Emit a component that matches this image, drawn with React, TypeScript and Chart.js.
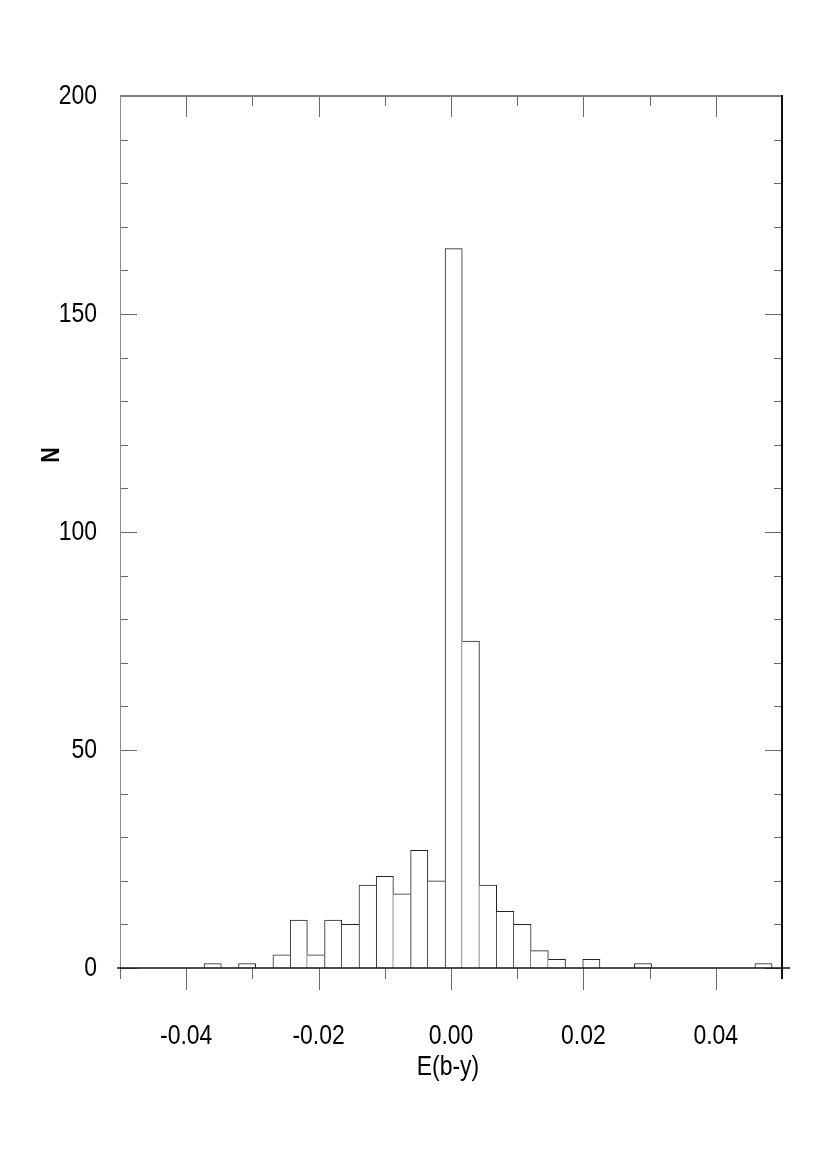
import React, { useEffect, useRef } from 'react';
import { Chart, registerables } from 'chart.js';

Chart.register(...registerables);

// Histogram bins (centres, in E(b-y) units) and counts
const binCenters = [
  -0.036, -0.0334, -0.0308, -0.0282, -0.0256, -0.023, -0.0204, -0.0178, -0.0152, -0.0126,
  -0.01, -0.0074, -0.0048, -0.0022, 0.0004, 0.003, 0.0056, 0.0082, 0.0108, 0.0134,
  0.016, 0.0186, 0.0212, 0.0238, 0.0264, 0.029, 0.0316, 0.0342, 0.0368, 0.0394,
  0.042, 0.0446, 0.0472,
];
const counts = [
  1, 0, 1, 0, 3, 11, 3, 11, 10, 19,
  21, 17, 27, 20, 165, 75, 19, 13, 10, 4,
  2, 0, 2, 0, 0, 1, 0, 0, 0, 0,
  0, 0, 1,
];

const xMajorValues = [-0.04, -0.02, 0, 0.02, 0.04];
const xTickLabels = ['-0.04', '-0.02', '0.00', '0.02', '0.04'];
const yMajorValues = [0, 50, 100, 150, 200];
const yTickLabels = ['0', '50', '100', '150', '200'];
const xTitle = 'E(b-y)';
const yTitle = 'N';

const FONT = "'Liberation Sans', Arial, sans-serif";
const NARROW = 0.82;

const isMajor = (list: number[], v: number) => list.findIndex((m) => Math.abs(m - v) < 1e-9);

const narrowText = (ctx: any, text: string, x: number, y: number, align: string, rot = 0) => {
  ctx.save();
  ctx.translate(x, y);
  if (rot) ctx.rotate(rot);
  ctx.scale(NARROW, 1);
  ctx.textAlign = align;
  ctx.textBaseline = 'middle';
  ctx.fillText(text, 0, 0);
  ctx.restore();
};

const framePlugin = {
  id: 'frame',
  afterDraw(chart: any) {
    const { ctx, chartArea: a, scales } = chart;
    const xs = scales.x;
    const ys = scales.y;
    ctx.save();
    // tick marks
    ctx.strokeStyle = '#6a6a6a';
    ctx.lineWidth = 1;
    xs.ticks.forEach((t: any) => {
      const px = Math.round(xs.getPixelForValue(t.value)) + 0.5;
      const major = isMajor(xMajorValues, t.value) >= 0;
      ctx.beginPath();
      ctx.moveTo(px, a.bottom);
      ctx.lineTo(px, a.bottom + (major ? 22 : 11));
      ctx.moveTo(px, a.top);
      ctx.lineTo(px, a.top + (major ? 21 : 10));
      ctx.stroke();
    });
    ys.ticks.forEach((t: any) => {
      const py = Math.round(ys.getPixelForValue(t.value)) + 0.5;
      const major = isMajor(yMajorValues, t.value) >= 0;
      ctx.beginPath();
      ctx.moveTo(a.left, py);
      ctx.lineTo(a.left + (major ? 17 : 8), py);
      ctx.moveTo(a.right, py);
      ctx.lineTo(a.right - (major ? 17 : 8), py);
      ctx.stroke();
    });
    // frame
    ctx.strokeStyle = '#808080';
    ctx.lineWidth = 2;
    ctx.beginPath();
    ctx.moveTo(a.left, a.top);
    ctx.lineTo(a.right, a.top);
    ctx.stroke();
    ctx.strokeStyle = '#8c8c8c';
    ctx.lineWidth = 1;
    ctx.beginPath();
    ctx.moveTo(a.left + 0.5, a.top);
    ctx.lineTo(a.left + 0.5, a.bottom);
    ctx.stroke();
    ctx.strokeStyle = '#111';
    ctx.lineWidth = 2;
    ctx.beginPath();
    ctx.moveTo(a.right, a.top - 1);
    ctx.lineTo(a.right, a.bottom + 11);
    ctx.stroke();
    ctx.lineWidth = 1.5;
    ctx.beginPath();
    ctx.moveTo(a.left - 3, a.bottom);
    ctx.lineTo(a.right + 8, a.bottom);
    ctx.stroke();

    // tick labels
    ctx.fillStyle = '#000';
    ctx.font = `28px ${FONT}`;
    xMajorValues.forEach((v, i) => {
      narrowText(ctx, xTickLabels[i], xs.getPixelForValue(v), a.bottom + 68, 'center');
    });
    yMajorValues.forEach((v, i) => {
      narrowText(ctx, yTickLabels[i], a.left - 23, ys.getPixelForValue(v), 'right');
    });
    // axis titles
    narrowText(ctx, xTitle, (a.left + a.right) / 2 - 3, a.bottom + 99, 'center');
    ctx.font = `bold 26px ${FONT}`;
    narrowText(ctx, yTitle, 52, 455, 'center', -Math.PI / 2);
    ctx.restore();
  },
};

export default function App() {
  const ref = useRef<HTMLCanvasElement | null>(null);

  useEffect(() => {
    if (!ref.current) return;
    const data = binCenters.map((x, i) => ({ x, y: counts[i] }));
    const chart = new Chart(ref.current, {
      type: 'bar',
      data: {
        datasets: [
          {
            data,
            backgroundColor: '#ffffff',
            borderColor: '#222222',
            borderSkipped: false,
            borderWidth: (c: any) => {
              const i = c.dataIndex;
              const cur = counts[i];
              const prev = i > 0 ? counts[i - 1] : 0;
              const next = i < counts.length - 1 ? counts[i + 1] : 0;
              return {
                top: 1,
                bottom: 0,
                left: cur >= prev ? 1 : 0,
                right: cur > next ? 1 : 0,
              };
            },
            barPercentage: 1,
            categoryPercentage: 1,
          } as any,
        ],
      },
      options: {
        responsive: false,
        animation: false,
        events: [],
        layout: { padding: { top: 96, right: 45, left: 0, bottom: 0 } },
        plugins: { legend: { display: false }, tooltip: { enabled: false } },
        scales: {
          x: {
            type: 'linear',
            min: -0.05,
            max: 0.05,
            offset: false,
            grid: { display: false, drawTicks: false, tickLength: 0 },
            border: { display: false },
            ticks: { stepSize: 0.01, autoSkip: false, display: false },
            afterFit: (s: any) => {
              s.height = 202;
            },
          },
          y: {
            type: 'linear',
            min: 0,
            max: 200,
            grid: { display: false, drawTicks: false, tickLength: 0 },
            border: { display: false },
            ticks: { stepSize: 10, autoSkip: false, display: false },
            afterFit: (s: any) => {
              s.width = 120;
            },
          },
        },
      },
      plugins: [framePlugin],
    } as any);
    return () => chart.destroy();
  }, []);

  return (
    <div style={{ position: 'absolute', left: 0, top: 0, width: 827, height: 1170, background: '#fff' }}>
      <canvas ref={ref} width={827} height={1170} style={{ display: 'block', width: 827, height: 1170 }} />
    </div>
  );
}
